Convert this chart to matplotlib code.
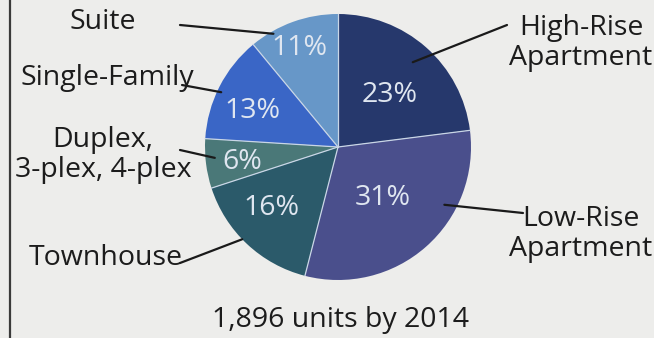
import numpy as np
import matplotlib.pyplot as plt

# Housing mix of new units
categories = ["High-Rise\nApartment", "Low-Rise\nApartment", "Townhouse",
              "Duplex,\n3-plex, 4-plex", "Single-Family", "Suite"]
shares = [23, 31, 16, 6, 13, 11]
caption = "1,896 units by 2014"

colors = ["#26386c", "#4a4f8c", "#2b5a6a", "#4a7878", "#3a66c6", "#6797c8"]

W, H = 654, 338
fig = plt.figure(figsize=(W / 100, H / 100), dpi=100)
fig.patch.set_facecolor("#ededeb")
ax = fig.add_axes([0, 0, 1, 1])

FONT = "Open Sans"
FS = 20.5
cx, cy, R = 338, 191, 133

wedges, _ = ax.pie(shares, colors=colors, startangle=90, counterclock=False,
                   center=(cx, cy), radius=R, frame=True,
                   wedgeprops=dict(linewidth=0))
ax.set_xlim(0, W)
ax.set_ylim(0, H)
ax.set_aspect("equal")
ax.axis("off")


def point_in(w, t, r):
    """Point at clockwise fraction t across wedge w, at radius fraction r."""
    ang = np.deg2rad(w.theta2 - t * (w.theta2 - w.theta1))
    return cx + r * R * np.cos(ang), cy + r * R * np.sin(ang)


# thin light separators between slices
for w in wedges:
    x, y = point_in(w, 0.0, 1.0)
    ax.plot([cx, x], [cy, y], color="#c9d6e6", lw=0.9, zorder=3)

# percentage labels inside slices
pct_pos = [(0.54, 0.55), (0.50, 0.51), (0.57, 0.68),
           (0.42, 0.73), (0.41, 0.70), (0.47, 0.80)]
for w, s, (t, r) in zip(wedges, shares, pct_pos):
    x, y = point_in(w, t, r)
    ax.text(x, y, f"{s}%", ha="center", va="center", color="#dfe6f0",
            fontsize=FS, family=FONT, zorder=4)

# category labels with leader lines
label_pos = [(581, 295), (581, 104), (106, 80), (103, 183), (107, 260), (103, 316)]
lead_start = [(507, 313), (523, 125), (180, 75), (180, 188), (182, 253), (180, 313)]
lead_end = [(0.50, 0.85), (0.32, 0.91), (0.55, 1.0), (0.60, 0.93), (0.46, 0.97), (0.25, 0.98)]
for w, name, (lx, ly), (sx, sy), (t, r) in zip(wedges, categories, label_pos,
                                             lead_start, lead_end):
    ax.text(lx, ly, name, ha="center", va="center", color="#1c1c1c",
            fontsize=FS, family=FONT, linespacing=1.12, zorder=4)
    ex, ey = point_in(w, t, r)
    ax.plot([sx, ex], [sy, ey], color="#1a1a1a", lw=1.6,
            solid_capstyle="round", zorder=5)

ax.text(340, 18, caption, ha="center", va="center", color="#1c1c1c",
        fontsize=FS, family=FONT)

# left frame rule
ax.plot([9.5, 9.5], [0, H], color="#3a3a3a", lw=1.6)

fig.savefig("out.png", dpi=100, facecolor=fig.get_facecolor())
